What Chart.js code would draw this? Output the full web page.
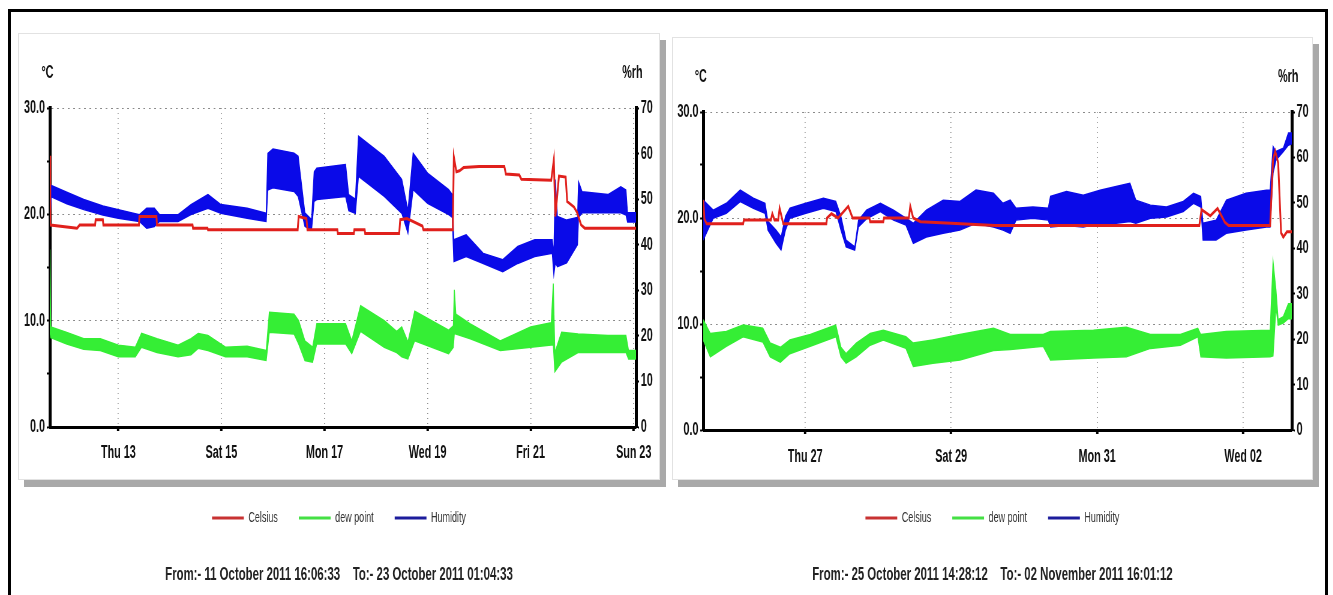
<!DOCTYPE html>
<html>
<head>
<meta charset="utf-8">
<script src="https://cdn.jsdelivr.net/npm/chart.js@4.4.0/dist/chart.umd.min.js"></script>
<style>
  html, body { margin: 0; padding: 0; background: #fff; width: 1333px; height: 595px; overflow: hidden; }
  .frame { position: absolute; left: 8px; top: 9px; width: 1320px; height: 620px; border: 3px solid #000; box-sizing: border-box; }
  .panel { position: absolute; border: 1px solid #e2e2e2; box-sizing: border-box; background: #fff;
           box-shadow: 6px 7px 0 #a9a9a9; }
  /* the logger software prints its charts horizontally condensed */
  canvas { position: absolute; transform: scaleX(0.6); transform-origin: 0 0; }
</style>
</head>
<body>
<div class="frame"></div>
<div class="panel" style="left:18px; top:33px; width:642px; height:447px;"></div>
<div class="panel" style="left:672px; top:37px; width:641px; height:443px;"></div>
<canvas id="runA" width="1070" height="562" style="left:18px; top:33px;"></canvas>
<canvas id="runB" width="1068" height="558" style="left:672px; top:37px;"></canvas>
<script>
// x values are day-of-month (fractional); November days carry on from 31 (Nov 2 = 33)

// ---- logger run 11 Oct - 23 Oct 2011 ----
const aRange = [11.671, 23.045];
const aTicks = [13, 15, 17, 19, 21, 23];
const aTickLabels = ['Thu 13', 'Sat 15', 'Mon 17', 'Wed 19', 'Fri 21', 'Sun 23'];
const aFooter = 'From:- 11 October 2011 16:06:33    To:- 23 October 2011 01:04:33';

const aTempDay = [11.671, 11.68, 12.0, 12.2, 12.25, 12.55, 12.56, 12.7, 12.71, 13.4, 13.41, 13.74, 13.75,
  14.44, 14.45, 14.73, 14.74, 16.48, 16.5, 16.65, 16.67, 17.25, 17.26, 17.57, 17.58, 17.78, 17.79,
  18.45, 18.47, 18.6, 18.9, 18.92, 19.49, 19.51, 19.56, 19.62, 19.7, 20.0, 20.49, 20.52, 20.78, 20.82,
  21.4, 21.45, 21.48, 21.55, 21.68, 21.71, 21.84, 21.9, 21.98, 22.05, 23.045];
const aTemp = [25.5, 19.0, 18.8, 18.7, 19.0, 19.0, 19.5, 19.5, 19.0, 19.0, 19.8, 19.8, 19.0,
  19.0, 18.7, 18.7, 18.55, 18.55, 19.8, 19.6, 18.55, 18.55, 18.2, 18.2, 18.55, 18.55, 18.2,
  18.2, 19.5, 19.6, 18.9, 18.55, 18.55, 25.4, 24.0, 24.1, 24.4, 24.5, 24.5, 23.8, 23.7, 23.3,
  23.2, 25.1, 19.8, 23.6, 23.5, 21.2, 20.7, 20.2, 19.0, 18.7, 18.7];

const aDewDay = [11.671, 11.69, 12.0, 12.33, 12.65, 13.0, 13.33, 13.45, 13.75, 14.16, 14.41, 14.55, 14.74,
  15.08, 15.5, 15.87, 15.93, 16.41, 16.5, 16.62, 16.77, 16.85, 17.41, 17.53, 17.7, 18.16, 18.4, 18.5,
  18.62, 18.75, 19.41, 19.5, 19.52, 19.55, 19.83, 20.41, 21.0, 21.4, 21.44, 21.47, 21.6, 21.92, 22.5,
  22.85, 22.9, 23.045];
const aDewHi = [16.7, 9.4, 8.9, 8.3, 8.3, 7.7, 7.5, 8.8, 8.3, 7.7, 8.3, 8.8, 8.6,
  7.5, 7.6, 7.2, 10.8, 10.6, 10.0, 8.1, 7.5, 9.7, 9.7, 8.1, 11.4, 10.0, 9.0, 9.4,
  8.0, 10.9, 9.1, 9.5, 12.9, 10.6, 9.7, 8.1, 9.4, 9.8, 13.5, 7.0, 8.9, 8.75, 8.6,
  8.6, 7.2, 7.2];
const aDewLo = [9.0, 8.4, 7.8, 7.3, 7.2, 6.6, 6.6, 7.5, 7.0, 6.6, 6.8, 7.4, 7.2,
  6.6, 6.6, 6.25, 8.9, 8.75, 7.8, 6.25, 6.1, 7.8, 7.8, 6.9, 9.0, 7.5, 7.0, 6.6,
  6.4, 8.1, 6.9, 7.5, 8.8, 8.75, 8.3, 7.2, 7.5, 7.7, 7.7, 5.2, 6.1, 7.0, 7.0,
  7.0, 6.4, 6.4];

const aHumDay = [11.671, 11.7, 12.0, 12.33, 12.7, 13.0, 13.41, 13.55, 13.7, 13.8, 14.16, 14.41, 14.74,
  14.99, 15.5, 15.87, 15.9, 16.0, 16.41, 16.49, 16.62, 16.75, 16.8, 16.85, 17.41, 17.47, 17.6, 17.66,
  18.16, 18.5, 18.62, 18.72, 19.0, 19.41, 19.48, 19.51, 19.75, 20.08, 20.46, 20.75, 21.08, 21.42,
  21.45, 21.48, 21.52, 21.7, 21.91, 21.93, 22.0, 22.5, 22.75, 22.85, 22.88, 23.045];
const aHumHi = [53.0, 53.0, 51.5, 49.9, 48.5, 47.7, 46.6, 48.0, 48.0, 46.6, 46.6, 48.8, 51.0,
  48.8, 48.0, 46.9, 60.0, 61.0, 60.1, 59.4, 47.0, 45.5, 56.0, 56.8, 57.6, 51.0, 50.0, 63.8,
  59.4, 54.3, 47.5, 60.1, 55.7, 52.1, 51.0, 41.1, 42.2, 38.1, 36.7, 39.6, 41.1, 41.1,
  38.0, 54.3, 46.2, 45.4, 46.0, 53.8, 51.6, 51.0, 52.7, 52.0, 47.0, 47.0];
const aHumLo = [44.0, 50.5, 49.0, 47.7, 46.5, 45.8, 45.1, 43.6, 44.0, 45.1, 45.1, 46.6, 48.0,
  46.9, 45.8, 45.1, 52.0, 52.5, 51.7, 50.6, 44.0, 43.3, 49.5, 49.9, 50.6, 47.5, 46.9, 55.0,
  50.6, 46.9, 42.5, 52.1, 49.1, 46.6, 46.0, 36.3, 37.4, 35.9, 34.1, 35.9, 37.4, 38.1,
  33.4, 36.0, 35.2, 36.0, 40.0, 46.0, 47.0, 47.0, 47.0, 46.5, 45.0, 45.0];

// ---- logger run 25 Oct - 02 Nov 2011 ----
const bRange = [25.603, 33.667];
const bTicks = [27, 29, 31, 33];
const bTickLabels = ['Thu 27', 'Sat 29', 'Mon 31', 'Wed 02'];
const bFooter = 'From:- 25 October 2011 14:28:12    To:- 02 November 2011 16:01:12';

const bTempDay = [25.603, 25.62, 25.65, 26.15, 26.16, 26.53, 26.55, 26.58, 26.63, 26.65, 26.7, 27.29, 27.3,
  27.36, 27.45, 27.59, 27.65, 27.88, 27.89, 28.07, 28.08, 28.42, 28.44, 28.48, 28.58, 29.0, 29.6, 30.5,
  31.5, 32.4, 32.43, 32.55, 32.65, 32.75, 32.8, 33.37, 33.41, 33.44, 33.48, 33.52, 33.55, 33.6, 33.667];
const bTemp = [21.7, 19.9, 19.45, 19.45, 19.8, 19.8, 20.4, 19.8, 19.8, 20.9, 19.45, 19.45, 20.0,
  20.4, 20.0, 21.1, 20.0, 20.0, 19.65, 19.65, 20.0, 20.0, 21.1, 20.0, 19.65, 19.5, 19.3, 19.3,
  19.3, 19.3, 20.8, 20.2, 20.9, 19.6, 19.3, 19.3, 25.5, 26.3, 25.2, 18.6, 18.2, 18.7, 18.7];

const bDewDay = [25.603, 25.7, 25.92, 26.15, 26.42, 26.52, 26.66, 26.79, 27.07, 27.42, 27.49, 27.56, 27.7,
  27.89, 28.07, 28.38, 28.48, 28.75, 29.12, 29.58, 29.81, 30.26, 30.36, 30.95, 31.4, 31.73, 32.14,
  32.38, 32.42, 32.77, 33.37, 33.41, 33.45, 33.48, 33.55, 33.62, 33.667];
const bDewHi = [10.4, 9.1, 9.3, 9.9, 9.6, 8.2, 7.8, 8.5, 9.0, 9.9, 7.8, 7.2, 8.2,
  9.1, 9.4, 8.8, 8.2, 8.5, 9.0, 9.6, 9.0, 9.0, 9.3, 9.4, 9.7, 9.0, 9.0,
  9.6, 9.0, 9.3, 9.4, 15.9, 13.2, 10.4, 10.7, 11.9, 11.9];
const bDewLo = [8.5, 6.9, 7.9, 8.8, 8.3, 6.9, 6.4, 7.2, 7.9, 8.8, 6.9, 6.3, 6.9,
  8.0, 8.5, 7.7, 6.0, 6.3, 6.6, 7.5, 7.6, 7.9, 6.6, 6.8, 6.9, 7.7, 8.0,
  8.8, 6.9, 6.8, 6.9, 7.0, 11.6, 9.9, 10.1, 10.5, 10.5];

const bHumDay = [25.603, 25.74, 25.92, 26.11, 26.29, 26.45, 26.49, 26.6, 26.67, 26.73, 26.79, 27.01, 27.25,
  27.42, 27.49, 27.56, 27.68, 27.73, 27.84, 28.03, 28.21, 28.38, 28.48, 28.66, 28.89, 29.12, 29.34,
  29.58, 29.71, 29.81, 29.89, 30.12, 30.33, 30.36, 30.58, 30.81, 31.04, 31.26, 31.45, 31.53, 31.73,
  31.95, 32.18, 32.32, 32.42, 32.45, 32.63, 32.77, 33.04, 33.32, 33.37, 33.41, 33.45, 33.55, 33.62, 33.667];
const bHumHi = [50.6, 48.4, 49.9, 52.8, 51.0, 49.9, 45.9, 44.0, 42.5, 47.0, 48.8, 49.9, 51.0,
  50.3, 47.0, 41.8, 40.3, 46.2, 48.4, 49.9, 48.4, 46.6, 45.5, 48.4, 50.6, 50.3, 52.8,
  52.1, 49.9, 50.6, 48.8, 49.1, 48.8, 51.4, 52.5, 51.7, 52.8, 53.6, 54.3, 50.6, 49.5,
  49.1, 50.3, 52.1, 51.4, 45.5, 46.2, 50.6, 52.1, 52.8, 52.8, 62.4, 61.3, 62.0, 65.4, 65.4];
const bHumLo = [41.8, 46.6, 47.7, 50.3, 48.8, 47.7, 44.0, 41.1, 39.6, 44.0, 46.6, 47.7, 48.8,
  48.1, 44.0, 40.3, 39.6, 44.7, 46.5, 48.1, 46.2, 45.1, 41.1, 42.5, 43.3, 44.0, 45.5,
  44.7, 44.0, 43.3, 46.2, 46.6, 46.2, 44.7, 45.0, 44.7, 45.5, 45.5, 45.9, 45.5, 46.6,
  46.9, 48.1, 49.9, 49.1, 41.8, 41.8, 43.3, 44.0, 44.7, 44.7, 56.5, 59.4, 61.3, 62.7, 63.0];

const RED = '#e0201c';
const GREEN = '#35ee35';
const BLUE = '#0a0ae8';
const FONT = "'Liberation Sans', Arial, sans-serif";

Chart.defaults.font.family = FONT;
Chart.defaults.color = '#111';
Chart.defaults.animation = false;

const pts = (xs, ys) => xs.map((x, i) => ({ x: x, y: ys[i] }));

// unit captions above the two value axes
const unitCaptions = {
  id: 'unitCaptions',
  afterDraw(chart) {
    const { ctx, chartArea } = chart;
    ctx.save();
    ctx.font = 'bold 18px ' + FONT;
    ctx.fillStyle = '#111';
    ctx.textAlign = 'center';
    ctx.textBaseline = 'middle';
    ctx.fillText('°C', chartArea.left - 4, chartArea.top - 35);
    ctx.fillText('%rh', chartArea.right - 6, chartArea.top - 35);
    ctx.restore();
  }
};

function makeChart(id, run, box) {
  const line = (label, data, color, width, extra) => Object.assign({
    label: label, data: data, borderColor: color, backgroundColor: color,
    borderWidth: width, pointRadius: 0, tension: 0, fill: false
  }, extra || {});

  const datasets = [
    line('Celsius', pts(run.tempDay, run.temp), RED, 3, { yAxisID: 'y' }),
    line('dew point', pts(run.dewDay, run.dewHi), GREEN, 1.5, { yAxisID: 'y' }),
    line('dew point min', pts(run.dewDay, run.dewLo), GREEN, 1.5, { yAxisID: 'y', fill: '-1', lower: true }),
    line('Humidity', pts(run.humDay, run.humHi), BLUE, 1.5, { yAxisID: 'y1' }),
    line('Humidity min', pts(run.humDay, run.humLo), BLUE, 1.5, { yAxisID: 'y1', fill: '-1', lower: true })
  ];
  const legendColors = { 'Celsius': '#c83232', 'dew point': '#44e044', 'Humidity': '#1c1c9c' };

  return new Chart(document.getElementById(id), {
    type: 'line',
    data: { datasets: datasets },
    plugins: [unitCaptions],
    options: {
      responsive: false,
      layout: { padding: { top: 75, left: 0, right: 0, bottom: 0 } },
      plugins: {
        tooltip: { enabled: false },
        legend: {
          position: 'bottom',
          labels: {
            boxWidth: 53, boxHeight: 3, padding: 35,
            font: { size: 15 }, color: '#333',
            generateLabels(chart) {
              return Chart.defaults.plugins.legend.labels.generateLabels(chart)
                .filter(l => !chart.data.datasets[l.datasetIndex].lower)
                .map(l => Object.assign(l, { fillStyle: legendColors[l.text], lineWidth: 0 }));
            }
          }
        },
        title: {
          display: true, position: 'bottom', text: run.footer,
          font: { size: 19, weight: 'bold' }, color: '#222',
          padding: { top: box.titleTop, bottom: box.titleBottom }
        }
      },
      scales: {
        x: {
          type: 'linear', min: run.range[0], max: run.range[1],
          afterBuildTicks: s => { s.ticks = run.ticks.map(v => ({ value: v })); },
          afterFit: s => { s.height = box.xHeight; },
          ticks: {
            autoSkip: false, maxRotation: 0, padding: box.xPad,
            font: { size: 18, weight: 'bold' }, color: '#111',
            callback: v => run.tickLabels[run.ticks.indexOf(v)]
          },
          grid: { color: '#8a8a8a', lineWidth: 1.6, tickLength: 4, tickColor: '#000', tickWidth: 4 },
          border: { display: true, color: '#000', width: 3, dash: [1, 4] }
        },
        y: {
          position: 'left', min: 0, max: 30,
          afterFit: s => { s.width = box.left; },
          ticks: {
            stepSize: 5, padding: 3,
            font: { size: 18, weight: 'bold' }, color: '#111',
            callback: v => (v % 10 === 0 ? v.toFixed(1) : '')
          },
          grid: {
            color: c => (c.tick && c.tick.value % 10 === 0 && c.tick.value > 0 ? '#8a8a8a' : 'rgba(0,0,0,0)'),
            lineWidth: 1, tickLength: 5, tickColor: '#000', tickWidth: 2
          },
          border: { display: true, color: '#000', width: 5, dash: [3, 6] }
        },
        y1: {
          position: 'right', min: 0, max: 70,
          afterFit: s => { s.width = box.right; },
          ticks: {
            stepSize: 5, padding: 3,
            font: { size: 18, weight: 'bold' }, color: '#111',
            callback: v => (v % 10 === 0 ? String(v) : '')
          },
          grid: { drawOnChartArea: false, tickLength: 5, tickColor: '#000', tickWidth: 2 },
          border: { display: true, color: '#000', width: 5 }
        }
      }
    }
  });
}

makeChart('runA', {
  range: aRange, ticks: aTicks, tickLabels: aTickLabels, footer: aFooter,
  tempDay: aTempDay, temp: aTemp,
  dewDay: aDewDay, dewHi: aDewHi, dewLo: aDewLo,
  humDay: aHumDay, humHi: aHumHi, humLo: aHumLo
}, { left: 53, right: 40, xHeight: 48.5, xPad: 11, titleTop: 28.1, titleBottom: 8.6 });

makeChart('runB', {
  range: bRange, ticks: bTicks, tickLabels: bTickLabels, footer: bFooter,
  tempDay: bTempDay, temp: bTemp,
  dewDay: bDewDay, dewHi: bDewHi, dewLo: bDewLo,
  humDay: bHumDay, humHi: bHumHi, humLo: bHumLo
}, { left: 52, right: 35, xHeight: 45.5, xPad: 12, titleTop: 28.1, titleBottom: 8.6 });
</script>
</body>
</html>
